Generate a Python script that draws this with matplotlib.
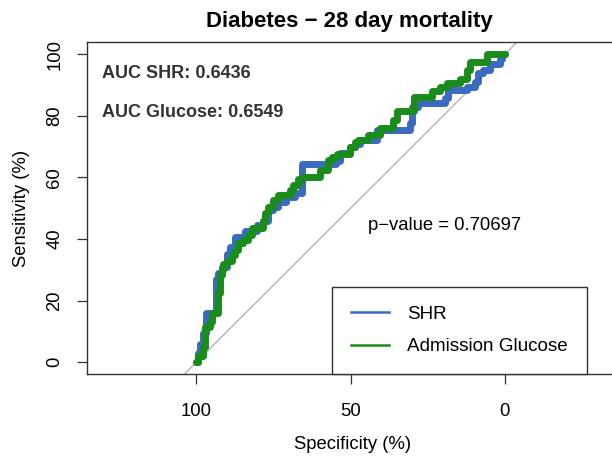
import matplotlib.pyplot as plt
from matplotlib.lines import Line2D

plt.rcParams['font.family'] = ['Liberation Sans', 'DejaVu Sans']

# ROC knots (specificity %, sensitivity %)
shr_spec = [100, 99.4, 98.9, 97.8, 96.9, 93.6, 92.9, 91.8, 90.2, 89.1, 87.5, 84.3,
            80.5, 78.4, 76.7, 75.1, 73.4, 71.0, 68.0, 65.8, 54.7, 53.4, 50.2, 48.5,
            46.9, 41.5, 30.7, 30.0, 28.1, 19.3, 18.3, 12.2, 9.6, 8.6, 7.0, 4.7, 1.5,
            0.9, 0]
shr_sens = [0, 3, 6, 9.5, 16, 27, 29, 31, 35, 37.5, 40.5, 42.5,
            44.5, 46, 49.5, 50.5, 52, 53.7, 55, 64.5, 65.5, 67.9, 69.9, 71,
            72.1, 75.3, 77.6, 82.8, 84.1, 86, 88.3, 89.5, 91, 94, 95, 97, 98.5,
            100, 100]

glu_spec = [100, 99.4, 97.8, 97.2, 95.6, 95.1, 92.9, 92.4, 91.8, 91.3, 90.2, 88.6,
            87.5, 86.4, 84.8, 83.2, 82.1, 78.4, 77.8, 76.7, 75.1, 73.4, 69.6, 68.6,
            67.0, 65.3, 60.0, 57.2, 56.1, 54.5, 50.2, 48.5, 47.5, 44.2, 40.4, 36.2,
            34.9, 29.5, 23.5, 20.9, 18.7, 14.4, 12.2, 11.2, 5.7, 0]
glu_sens = [0, 2, 5, 11.5, 13, 16, 22.4, 28.2, 30, 32, 33, 34.7,
            36.4, 38.6, 39.6, 41.2, 43.7, 46, 48.3, 50.4, 52.6, 54.2, 55.8, 57.5,
            59.6, 60.2, 62.5, 65.6, 66.7, 67.8, 69.9, 71.5, 72.1, 73.7, 76, 78.6,
            81.5, 86.3, 88, 89.5, 90.8, 92, 95, 97.5, 100, 100]

labels = ['SHR', 'Admission Glucose']
colors = ['#3A6BC1', '#1A8C1A']
auc_text = ['AUC SHR: 0.6436', 'AUC Glucose: 0.6549']
p_text = 'p\u2212value = 0.70697'

W, H = 612, 457
fig = plt.figure(figsize=(W / 100, H / 100), dpi=100)
# the plot box runs past the right edge of the picture
ax = fig.add_axes([86.5 / W, 1 - 374 / H, (618 - 86.5) / W, (374 - 42.5) / H])
ax.set_xlim(135.7, -36.8)
ax.set_ylim(-3.9, 103.9)

ax.plot([104, -4], [-4, 104], color='#B4B4B4', lw=1, zorder=1)
ax.step(shr_spec, shr_sens, where='post', color=colors[0], lw=5,
        solid_capstyle='round', solid_joinstyle='round', zorder=2)
ax.step(glu_spec, glu_sens, where='post', color=colors[1], lw=5,
        solid_capstyle='round', solid_joinstyle='round', zorder=3)

for s in ax.spines.values():
    s.set_color('#333333')
    s.set_linewidth(1)

ax.set_xticks([100, 50, 0])
ax.set_yticks([0, 20, 40, 60, 80, 100])
ax.tick_params(axis='both', length=7.2, width=0.9, color='#333333', labelsize=13.3)
ax.tick_params(axis='x', pad=14)
ax.tick_params(axis='y', pad=9.4, labelrotation=90)
for t in ax.get_yticklabels():
    t.set_va('center')

ax.set_xlabel('Specificity (%)', fontsize=13.3, labelpad=11)
ax.set_ylabel('Sensitivity (%)', fontsize=13.3, labelpad=12)

fig.text((86.5 + 612) / 2 / W, 1 - 27 / H, 'Diabetes \u2212 28 day mortality',
         ha='center', va='baseline', fontsize=16, fontweight='bold')

ax.text(130.8, 92.5, auc_text[0], fontsize=13, fontweight='bold', color='#333333',
        ha='left', va='baseline')
ax.text(130.8, 79.8, auc_text[1], fontsize=13, fontweight='bold', color='#333333',
        ha='left', va='baseline')
ax.text(44.5, 42.9, p_text, fontsize=13.3, ha='left', va='baseline')

handles = [Line2D([], [], color=c, lw=1.8) for c in colors]
leg = ax.legend(handles, labels, loc='lower right',
                bbox_to_anchor=(586.5 / W, 1 - 374 / H), bbox_transform=fig.transFigure,
                borderaxespad=0, fontsize=13.6, handlelength=2.0, handletextpad=0.95,
                borderpad=1.0, labelspacing=0.8, fancybox=False, framealpha=1,
                edgecolor='#333333')
leg.get_frame().set_linewidth(1)

fig.savefig('out.png', dpi=100)
